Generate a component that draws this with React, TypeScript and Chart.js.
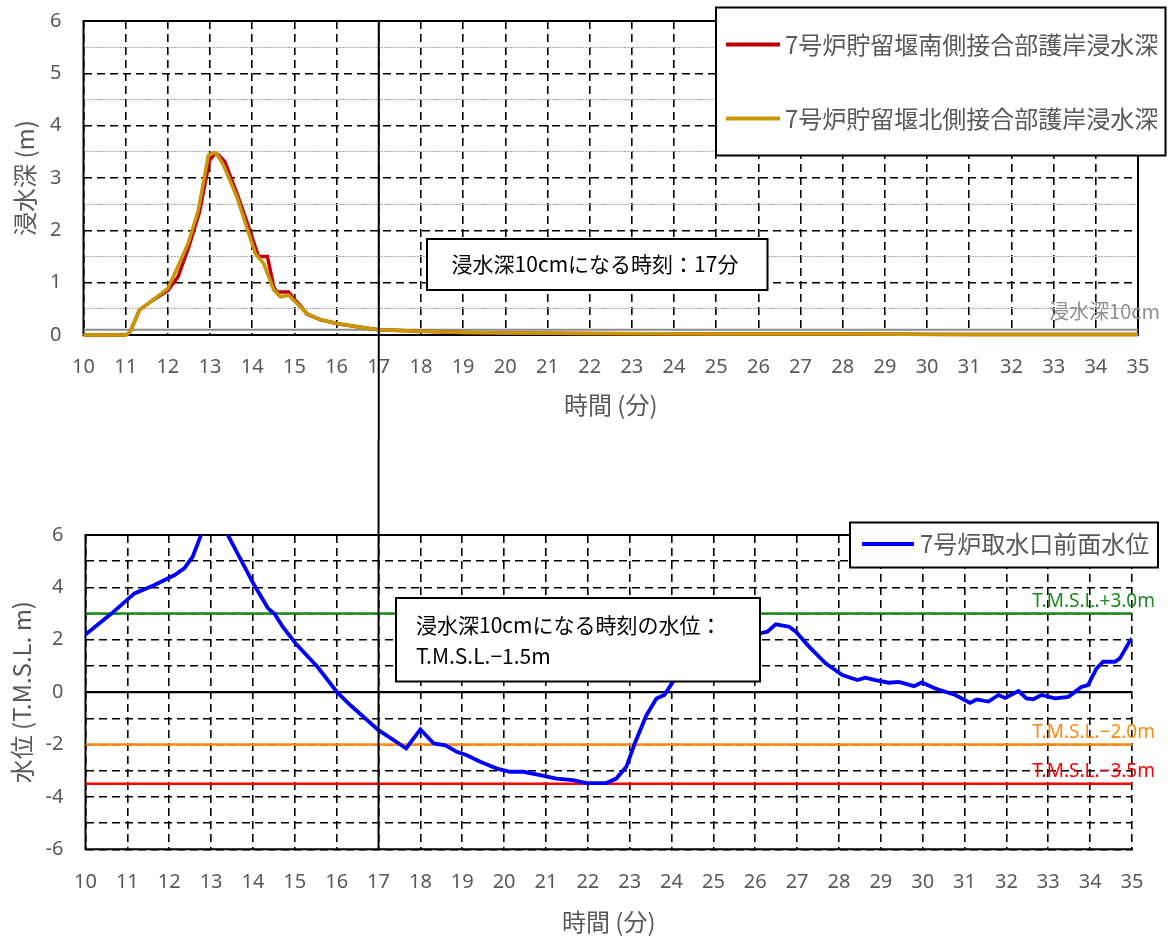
import React, { useEffect, useRef } from 'react';
import { Chart, registerables } from 'chart.js';

Chart.register(...registerables);

// ---------- data ----------
const timeRange = [10, 35];
const markTime = 17;
const depthThreshold = 0.1;

const southTimes = [10, 11.0, 11.1, 11.33, 11.65, 12.0, 12.24, 12.5, 12.75, 12.99, 13.12, 13.2, 13.35, 13.65, 13.9, 14.1, 14.15, 14.36, 14.51, 14.58, 14.86, 15.0, 15.13, 15.3, 15.62, 16.06, 16.73, 17, 18, 19, 20, 22, 25, 28, 31, 35];
const southDepth = [0, 0, 0.05, 0.48, 0.67, 0.85, 1.11, 1.69, 2.35, 3.34, 3.47, 3.44, 3.31, 2.68, 2.1, 1.62, 1.5, 1.5, 0.92, 0.82, 0.82, 0.68, 0.57, 0.4, 0.29, 0.21, 0.13, 0.1, 0.07, 0.05, 0.04, 0.03, 0.02, 0.02, 0.01, 0.01];

const northTimes = [10, 11.0, 11.1, 11.33, 11.65, 12.0, 12.2, 12.48, 12.72, 12.96, 13.08, 13.15, 13.32, 13.64, 13.87, 14.07, 14.27, 14.51, 14.67, 14.87, 15.06, 15.3, 15.62, 16.06, 16.73, 17, 18, 19, 20, 22, 25, 28, 31, 35];
const northDepth = [0, 0, 0.05, 0.48, 0.67, 0.89, 1.24, 1.75, 2.38, 3.43, 3.48, 3.47, 3.24, 2.63, 2.06, 1.56, 1.37, 0.86, 0.73, 0.76, 0.6, 0.41, 0.29, 0.21, 0.13, 0.1, 0.07, 0.05, 0.04, 0.03, 0.02, 0.02, 0.01, 0.01];

const levelTimes = [10, 10.62, 11.17, 11.65, 12.13, 12.36, 12.56, 12.76, 12.95, 13.1, 13.25, 13.4, 14.03, 14.36, 14.52, 14.71, 15.02, 15.54, 16.01, 16.33, 17.0, 17.52, 17.66, 18.0, 18.32, 18.6, 18.87, 19.11, 19.43, 19.83, 20.14, 20.46, 20.86, 21.25, 21.65, 21.97, 22.44, 22.68, 22.92, 23.12, 23.4, 23.64, 23.83, 24.03, 24.3, 24.7, 25.2, 25.7, 26.1, 26.29, 26.49, 26.81, 26.97, 27.29, 27.68, 28.08, 28.44, 28.63, 28.87, 29.19, 29.43, 29.79, 29.98, 30.3, 30.78, 31.13, 31.29, 31.57, 31.81, 31.97, 32.29, 32.48, 32.64, 32.84, 33.16, 33.48, 33.79, 33.95, 34.15, 34.31, 34.59, 34.71, 34.94, 35];
const levelValues = [2.2, 3.0, 3.77, 4.09, 4.47, 4.73, 5.17, 6.0, 7.0, 7.3, 6.8, 6.0, 4.09, 3.2, 2.98, 2.5, 1.86, 0.97, 0.0, -0.5, -1.45, -2.0, -2.15, -1.42, -1.96, -2.03, -2.28, -2.41, -2.66, -2.92, -3.04, -3.04, -3.17, -3.3, -3.36, -3.47, -3.47, -3.3, -2.85, -1.96, -0.88, -0.24, -0.11, 0.39, 0.9, 1.5, 1.95, 2.2, 2.24, 2.31, 2.59, 2.5, 2.31, 1.73, 1.1, 0.65, 0.46, 0.55, 0.46, 0.36, 0.39, 0.23, 0.37, 0.14, -0.11, -0.41, -0.28, -0.36, -0.11, -0.22, 0.04, -0.24, -0.27, -0.11, -0.24, -0.18, 0.2, 0.27, 0.9, 1.16, 1.16, 1.29, 1.92, 2.05];

const levelThresholds = [3.0, -2.0, -3.5];
const thresholdLabels = ['T.M.S.L.+3.0m', 'T.M.S.L.\u22122.0m', 'T.M.S.L.\u22123.5m'];
const thresholdColors = ['#1a8a1a', '#ff8a12', '#ff0000'];

const southLabel = '7号炉貯留堰南側接合部護岸浸水深';
const northLabel = '7号炉貯留堰北側接合部護岸浸水深';
const levelLabel = '7号炉取水口前面水位';
const thresholdDepthLabel = '浸水深10cm';
const noteTop = ['浸水深10cmになる時刻：17分'];
const noteBottom = ['浸水深10cmになる時刻の水位：', 'T.M.S.L.\u22121.5m'];
const xTitle = '時間 (分)';
const yTitleTop = '浸水深 (m)';
const yTitleBottom = '水位 (T.M.S.L. m)';

// ---------- styles ----------
const CJK = '"Noto Sans CJK JP", "Noto Sans", sans-serif';
const NUM = '"Noto Sans", "DejaVu Sans", sans-serif';
const GREY = '#595959';
const DASH = [8, 5];
const CLEAR = 'rgba(0,0,0,0)';

const pts = (xs: number[], ys: number[]) => xs.map((x, i) => ({ x, y: ys[i] }));
const isInt = (v: any) => typeof v === 'number' && Math.abs(v - Math.round(v)) < 1e-9;

function xScale(axisHeight: number, titlePad: number, tickGap: number) {
  return {
    type: 'linear',
    min: timeRange[0],
    max: timeRange[1],
    afterFit: (s: any) => { s.height = axisHeight; },
    ticks: { stepSize: 1, autoSkip: false, maxRotation: 0, padding: 0, color: GREY, font: { family: NUM, size: 20 } },
    grid: { color: '#000', lineWidth: 1.6, drawTicks: true, tickLength: tickGap, tickColor: CLEAR },
    border: { display: false, dash: DASH },
    title: { display: true, text: xTitle, color: GREY, font: { family: CJK, size: 24 }, padding: { top: 0, bottom: titlePad } },
  };
}

function framePlugin(sides: { top: boolean; right: boolean; bottom: boolean; left: boolean }) {
  return {
    id: 'frame',
    beforeDatasetsDraw(chart: any) {
      const { ctx, chartArea: a } = chart;
      ctx.save();
      ctx.strokeStyle = '#000';
      ctx.lineWidth = 2;
      ctx.beginPath();
      if (sides.top) { ctx.moveTo(a.left - 1, a.top); ctx.lineTo(a.right + 1, a.top); }
      if (sides.bottom) { ctx.moveTo(a.left - 1, a.bottom); ctx.lineTo(a.right + 1, a.bottom); }
      if (sides.left) { ctx.moveTo(a.left, a.top); ctx.lineTo(a.left, a.bottom); }
      if (sides.right) { ctx.moveTo(a.right, a.top); ctx.lineTo(a.right, a.bottom); }
      ctx.stroke();
      ctx.restore();
    },
  };
}

function vlinePlugin(mode: 'top' | 'bottom') {
  return {
    id: 'vline',
    afterDatasetsDraw(chart: any) {
      const { ctx, chartArea: a, height } = chart;
      const x = chart.scales.x.getPixelForValue(markTime);
      ctx.save();
      ctx.strokeStyle = '#000';
      ctx.lineWidth = 2;
      ctx.beginPath();
      ctx.moveTo(x, mode === 'top' ? a.top : 0);
      ctx.lineTo(x, mode === 'top' ? height : a.bottom);
      ctx.stroke();
      ctx.restore();
    },
  };
}

function legendPlugin(box: number[], items: { ds: number; y: number }[], sample: number[], textX: number) {
  return {
    id: 'boxLegend',
    afterDraw(chart: any) {
      const { ctx } = chart;
      ctx.save();
      ctx.fillStyle = '#fff';
      ctx.fillRect(box[0], box[1], box[2] - box[0], box[3] - box[1]);
      ctx.strokeStyle = '#000';
      ctx.lineWidth = 2;
      ctx.strokeRect(box[0], box[1], box[2] - box[0], box[3] - box[1]);
      items.forEach((it) => {
        const ds = chart.data.datasets[it.ds];
        ctx.strokeStyle = ds.borderColor;
        ctx.lineWidth = 4;
        ctx.beginPath();
        ctx.moveTo(sample[0], it.y);
        ctx.lineTo(sample[1], it.y);
        ctx.stroke();
        ctx.fillStyle = GREY;
        ctx.font = `24px ${CJK}`;
        ctx.textAlign = 'left';
        ctx.textBaseline = 'middle';
        ctx.fillText(ds.label, textX, it.y);
      });
      ctx.restore();
    },
  };
}

function notePlugin(box: number[], lines: string[], align: 'center' | 'left', textX: number, ys: number[]) {
  return {
    id: 'note',
    afterDraw(chart: any) {
      const { ctx } = chart;
      ctx.save();
      ctx.fillStyle = '#fff';
      ctx.fillRect(box[0], box[1], box[2] - box[0], box[3] - box[1]);
      ctx.strokeStyle = '#000';
      ctx.lineWidth = 2;
      ctx.strokeRect(box[0], box[1], box[2] - box[0], box[3] - box[1]);
      ctx.fillStyle = '#000';
      ctx.font = `21px ${CJK}`;
      ctx.textAlign = align;
      ctx.textBaseline = 'middle';
      lines.forEach((t, i) => ctx.fillText(t, textX, ys[i]));
      ctx.restore();
    },
  };
}

function levelLabelPlugin(items: { v: number; text: string; color: string; size: number; family: string }[], rightX: number, offset: number) {
  return {
    id: 'levelLabels',
    afterDraw(chart: any) {
      const { ctx } = chart;
      ctx.save();
      ctx.textAlign = 'right';
      ctx.textBaseline = 'middle';
      items.forEach((it) => {
        const y = chart.scales.y.getPixelForValue(it.v) - offset;
        ctx.fillStyle = it.color;
        ctx.font = `${it.size}px ${it.family}`;
        ctx.fillText(it.text, rightX, y);
      });
      ctx.restore();
    },
  };
}

function topConfig(): any {
  return {
    type: 'line',
    data: {
      datasets: [
        { label: northLabel, data: pts(northTimes, northDepth), borderColor: '#c99700', borderWidth: 3.5, order: 0, clip: 4 },
        { label: southLabel, data: pts(southTimes, southDepth), borderColor: '#c00000', borderWidth: 3.5, order: 1, clip: 4 },
        { label: thresholdDepthLabel, data: pts(timeRange, [depthThreshold, depthThreshold]), borderColor: '#8c8c8c', borderWidth: 2.2, order: 2 },
      ],
    },
    options: {
      animation: false,
      responsive: false,
      events: [],
      layout: { padding: { top: 21, left: 0, right: 34, bottom: 0 } },
      elements: { point: { radius: 0 }, line: { tension: 0, fill: false } },
      plugins: { legend: { display: false }, tooltip: { enabled: false } },
      scales: {
        x: xScale(105, 21, 20),
        y: {
          type: 'linear',
          min: 0,
          max: 6,
          afterFit: (s: any) => { s.width = 83.5; },
          ticks: { stepSize: 0.5, autoSkip: false, padding: 0, color: GREY, font: { family: NUM, size: 20 }, callback: (v: any) => (isInt(v) ? String(v) : '') },
          grid: {
            drawTicks: true,
            tickLength: 22,
            tickColor: CLEAR,
            color: (c: any) => (c.tick && !isInt(c.tick.value) ? '#a8a8a8' : '#000'),
            lineWidth: (c: any) => (c.tick && !isInt(c.tick.value) ? 1 : 1.6),
          },
          border: { display: false, dash: (c: any) => (c.tick && !isInt(c.tick.value) ? [2, 1] : DASH) },
          title: { display: true, text: yTitleTop, color: GREY, font: { family: CJK, size: 24 }, padding: { top: 10.5, bottom: 0 } },
        },
      },
    },
    plugins: [
      framePlugin({ top: true, right: true, bottom: true, left: true }),
      vlinePlugin('top'),
      levelLabelPlugin([{ v: depthThreshold, text: thresholdDepthLabel, color: '#8f8f8f', size: 20, family: CJK }], 1160, 18),
      legendPlugin([716, 7.5, 1165.5, 155.5], [{ ds: 1, y: 44.5 }, { ds: 0, y: 118.5 }], [726, 780], 785),
      notePlugin([427, 239, 767.5, 290], noteTop, 'center', 595, [264.5]),
    ],
  };
}

function bottomConfig(): any {
  return {
    type: 'line',
    data: {
      datasets: [
        { label: levelLabel, data: pts(levelTimes, levelValues), borderColor: '#0000ff', borderWidth: 3.8, order: 0 },
        ...levelThresholds.map((v, i) => ({
          label: thresholdLabels[i],
          data: pts(timeRange, [v, v]),
          borderColor: thresholdColors[i],
          borderWidth: 2.5,
          order: 1,
        })),
      ],
    },
    options: {
      animation: false,
      responsive: false,
      events: [],
      layout: { padding: { top: 95, left: 0, right: 40, bottom: 0 } },
      elements: { point: { radius: 0 }, line: { tension: 0, fill: false } },
      plugins: { legend: { display: false }, tooltip: { enabled: false } },
      scales: {
        x: xScale(89.7, 3, 20.5),
        y: {
          type: 'linear',
          min: -6,
          max: 6,
          afterFit: (s: any) => { s.width = 85.5; },
          ticks: { stepSize: 1, autoSkip: false, padding: 0, color: GREY, font: { family: NUM, size: 20 }, callback: (v: any) => (Math.round(v) % 2 === 0 ? String(v) : '') },
          grid: {
            drawTicks: true,
            tickLength: 22,
            tickColor: CLEAR,
            color: '#000',
            lineWidth: (c: any) => (c.tick && c.tick.value === 0 ? 2.2 : 1.6),
          },
          border: { display: false, dash: (c: any) => (c.tick && c.tick.value === 0 ? [] : DASH) },
          title: { display: true, text: yTitleBottom, color: GREY, font: { family: CJK, size: 24 }, padding: { top: 7.3, bottom: 0 } },
        },
      },
    },
    plugins: [
      framePlugin({ top: true, right: false, bottom: true, left: true }),
      vlinePlugin('bottom'),
      levelLabelPlugin(
        levelThresholds.map((v, i) => ({ v, text: thresholdLabels[i], color: thresholdColors[i], size: 19, family: NUM })),
        1155,
        12
      ),
      legendPlugin([850, 82.5, 1158, 127.5], [{ ds: 0, y: 104 }], [862, 914], 920),
      notePlugin([396, 158, 760, 241.5], noteBottom, 'left', 416, [185, 216.5]),
    ],
  };
}

export default function App() {
  const topRef = useRef<HTMLCanvasElement>(null);
  const botRef = useRef<HTMLCanvasElement>(null);
  useEffect(() => {
    const c1 = new Chart(topRef.current as HTMLCanvasElement, topConfig());
    const c2 = new Chart(botRef.current as HTMLCanvasElement, bottomConfig());
    return () => {
      c1.destroy();
      c2.destroy();
    };
  }, []);
  return (
    <div style={{ position: 'absolute', left: 0, top: 0, width: 1172, height: 939, background: '#fff' }}>
      <canvas ref={topRef} width={1172} height={440} style={{ position: 'absolute', left: 0, top: 0, display: 'block' }} />
      <canvas ref={botRef} width={1172} height={499} style={{ position: 'absolute', left: 0, top: 440, display: 'block' }} />
    </div>
  );
}
